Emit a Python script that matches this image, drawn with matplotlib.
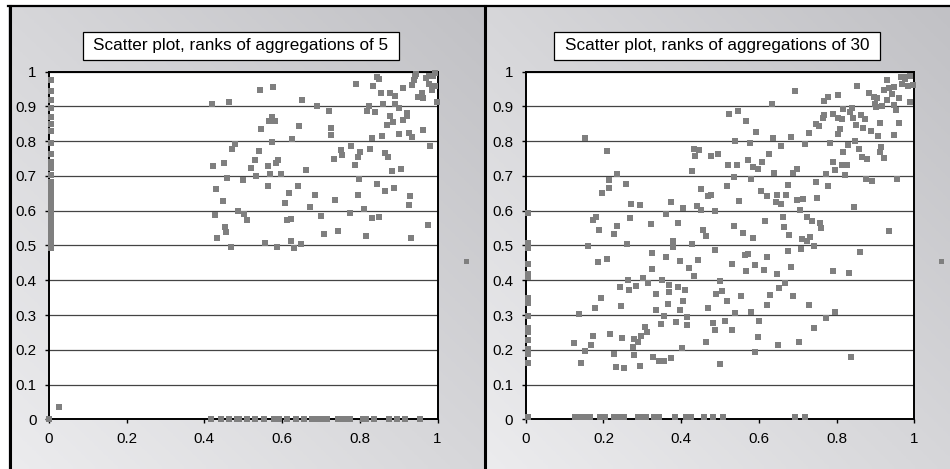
import numpy as np
import matplotlib
matplotlib.use("Agg")
import matplotlib.pyplot as plt
from matplotlib.lines import Line2D
from matplotlib.patches import Rectangle

plt.rcParams['font.family'] = ['Liberation Sans', 'DejaVu Sans']

titles = ["Scatter plot, ranks of aggregations of 5",
          "Scatter plot, ranks of aggregations of 30"]
ticks = [0, 0.2, 0.4, 0.6, 0.8, 1]
ytick_vals = [0, 0.1, 0.2, 0.3, 0.4, 0.5, 0.6, 0.7, 0.8, 0.9, 1]
ytick_labels = ["0", "0.1", "0.2", "0.3", "0.4", "0.5", "0.6", "0.7", "0.8", "0.9", "1"]
xtick_labels = ["0", "0.2", "0.4", "0.6", "0.8", "1"]

# ---- aggregations of 5 ----
agg5_edge_x = 0.004
agg5_edge_y = [0.975, 0.945, 0.918, 0.895, 0.871, 0.849, 0.829, 0.794, 0.763, 0.741,
               0.722, 0.703, 0.684, 0.675, 0.664, 0.656, 0.650, 0.640, 0.631, 0.616,
               0.607, 0.597, 0.580, 0.569, 0.562, 0.554, 0.540, 0.532, 0.525, 0.518,
               0.511, 0.500, 0.492]
agg5_floor_x = [0.0, 0.416, 0.442, 0.464, 0.483, 0.490, 0.510, 0.530, 0.554, 0.579,
                0.593, 0.613, 0.636, 0.656, 0.676, 0.684, 0.693, 0.702, 0.716, 0.744,
                0.759, 0.774, 0.809, 0.817, 0.836, 0.876, 0.897, 0.916, 0.956]
agg5_floor_y = 0.0
agg5_x = [0.026,
          0.420, 0.464, 0.423, 0.430, 0.427, 0.433, 0.447, 0.450, 0.454, 0.456,
          0.459, 0.469, 0.472, 0.479, 0.486, 0.500, 0.503, 0.510, 0.521, 0.531,
          0.533, 0.541, 0.544, 0.546, 0.557, 0.563, 0.564, 0.566, 0.570, 0.573,
          0.582, 0.575, 0.577, 0.585, 0.590, 0.587, 0.598, 0.608, 0.613, 0.623,
          0.617, 0.623, 0.626, 0.630, 0.641, 0.644, 0.649, 0.652, 0.662, 0.672,
          0.685, 0.690, 0.701, 0.708, 0.721, 0.726, 0.726, 0.734, 0.737, 0.744,
          0.752, 0.755, 0.775, 0.778, 0.788, 0.791, 0.796, 0.796, 0.801, 0.798,
          0.811, 0.817, 0.819, 0.824, 0.827, 0.832, 0.832, 0.835, 0.840, 0.845,
          0.845, 0.850, 0.850, 0.855, 0.858, 0.860, 0.865, 0.873, 0.865, 0.870,
          0.878, 0.878, 0.883, 0.886, 0.888, 0.891, 0.891, 0.901, 0.901, 0.906,
          0.912, 0.912, 0.922, 0.922, 0.927, 0.927, 0.930, 0.932, 0.935, 0.935,
          0.940, 0.945, 0.943, 0.950, 0.961, 0.963, 0.963, 0.971, 0.979, 0.976,
          0.979, 0.981, 0.986, 0.989, 0.994, 0.994, 0.999]
agg5_y = [0.036,
          0.908, 0.912, 0.728, 0.662, 0.587, 0.521, 0.627, 0.736, 0.552, 0.539,
          0.693, 0.495, 0.777, 0.791, 0.598, 0.687, 0.592, 0.573, 0.722, 0.745,
          0.699, 0.771, 0.947, 0.835, 0.506, 0.728, 0.671, 0.858, 0.705, 0.869,
          0.857, 0.797, 0.955, 0.736, 0.745, 0.497, 0.707, 0.621, 0.573, 0.576,
          0.650, 0.512, 0.805, 0.492, 0.670, 0.843, 0.503, 0.918, 0.716, 0.610,
          0.644, 0.900, 0.584, 0.532, 0.886, 0.837, 0.817, 0.748, 0.630, 0.542,
          0.774, 0.759, 0.593, 0.785, 0.733, 0.964, 0.645, 0.754, 0.770, 0.690,
          0.604, 0.526, 0.886, 0.900, 0.779, 0.808, 0.578, 0.958, 0.883, 0.677,
          0.984, 0.978, 0.581, 0.938, 0.814, 0.906, 0.765, 0.754, 0.656, 0.846,
          0.938, 0.872, 0.713, 0.854, 0.664, 0.929, 0.906, 0.895, 0.820, 0.719,
          0.952, 0.860, 0.872, 0.880, 0.823, 0.616, 0.641, 0.521, 0.811, 0.961,
          0.975, 0.992, 0.987, 0.926, 0.938, 0.923, 0.831, 0.981, 0.987, 0.558,
          0.964, 0.785, 0.946, 0.989, 0.995, 0.958, 0.912]

# ---- aggregations of 30 ----
agg30_edge_x = 0.007
agg30_edge_y = [0.593, 0.508, 0.492, 0.446, 0.418, 0.408, 0.348, 0.338, 0.334, 0.297,
                0.262, 0.250, 0.228, 0.201, 0.194, 0.188, 0.163]
agg30_floor_x = [0.007, 0.127, 0.137, 0.149, 0.160, 0.166, 0.191, 0.204, 0.226, 0.239,
                 0.254, 0.288, 0.299, 0.309, 0.329, 0.343, 0.385, 0.412, 0.426, 0.460,
                 0.483, 0.509, 0.692, 0.718]
agg30_floor_y = 0.006
agg30_x = [0.125, 0.136, 0.142, 0.153, 0.153, 0.161, 0.168, 0.172, 0.174, 0.182,
           0.179, 0.189, 0.187, 0.195, 0.197, 0.208, 0.210, 0.215, 0.215, 0.218,
           0.226, 0.228, 0.233, 0.236, 0.236, 0.244, 0.246, 0.249, 0.254, 0.259,
           0.262, 0.264, 0.267, 0.269, 0.272, 0.275, 0.280, 0.280, 0.283, 0.290,
           0.293, 0.295, 0.298, 0.303, 0.308, 0.313, 0.316, 0.322, 0.324, 0.326,
           0.328, 0.336, 0.336, 0.342, 0.347, 0.352, 0.355, 0.357, 0.360, 0.362,
           0.365, 0.370, 0.370, 0.375, 0.375, 0.380, 0.380, 0.388, 0.391, 0.393,
           0.396, 0.396, 0.406, 0.406, 0.409, 0.403, 0.414, 0.416, 0.421, 0.427,
           0.429, 0.432, 0.434, 0.447, 0.437, 0.440, 0.443, 0.450, 0.452, 0.457,
           0.463, 0.463, 0.468, 0.476, 0.470, 0.476, 0.481, 0.486, 0.488, 0.488,
           0.491, 0.496, 0.499, 0.501, 0.506, 0.512, 0.517, 0.519, 0.522, 0.524,
           0.530, 0.530, 0.535, 0.537, 0.538, 0.540, 0.543, 0.546, 0.548, 0.554,
           0.559, 0.564, 0.567, 0.567, 0.572, 0.572, 0.577, 0.579, 0.579, 0.584,
           0.586, 0.589, 0.591, 0.594, 0.597, 0.597, 0.601, 0.605, 0.608, 0.613,
           0.615, 0.620, 0.621, 0.622, 0.627, 0.630, 0.633, 0.636, 0.638, 0.644,
           0.648, 0.646, 0.649, 0.652, 0.656, 0.658, 0.662, 0.664, 0.667, 0.670,
           0.674, 0.674, 0.677, 0.682, 0.684, 0.687, 0.687, 0.692, 0.699, 0.699,
           0.704, 0.707, 0.708, 0.711, 0.715, 0.718, 0.723, 0.725, 0.728, 0.730,
           0.733, 0.738, 0.741, 0.743, 0.746, 0.746, 0.749, 0.755, 0.757, 0.761,
           0.764, 0.767, 0.769, 0.772, 0.773, 0.777, 0.779, 0.782, 0.790, 0.791,
           0.792, 0.796, 0.797, 0.803, 0.805, 0.805, 0.810, 0.813, 0.815, 0.817,
           0.818, 0.822, 0.827, 0.830, 0.831, 0.835, 0.840, 0.837, 0.843, 0.845,
           0.848, 0.851, 0.854, 0.858, 0.860, 0.864, 0.866, 0.879, 0.869, 0.874,
           0.876, 0.884, 0.889, 0.892, 0.897, 0.904, 0.899, 0.902, 0.907, 0.911,
           0.912, 0.915, 0.918, 0.921, 0.923, 0.931, 0.931, 0.934, 0.934, 0.942,
           0.947, 0.948, 0.949, 0.954, 0.955, 0.960, 0.960, 0.965, 0.975, 0.968,
           0.977, 0.983, 0.988, 0.989, 0.998]
agg30_y = [0.219, 0.302, 0.161, 0.808, 0.197, 0.499, 0.214, 0.240, 0.573, 0.583,
           0.319, 0.545, 0.452, 0.348, 0.650, 0.460, 0.771, 0.687, 0.664, 0.245,
           0.532, 0.188, 0.151, 0.705, 0.555, 0.380, 0.327, 0.233, 0.148, 0.676,
           0.503, 0.400, 0.372, 0.578, 0.618, 0.209, 0.231, 0.185, 0.384, 0.221,
           0.616, 0.153, 0.240, 0.406, 0.265, 0.251, 0.391, 0.562, 0.477, 0.432,
           0.180, 0.360, 0.314, 0.168, 0.274, 0.401, 0.297, 0.168, 0.466, 0.591,
           0.331, 0.385, 0.365, 0.626, 0.177, 0.513, 0.495, 0.281, 0.564, 0.380,
           0.454, 0.314, 0.607, 0.339, 0.372, 0.204, 0.271, 0.293, 0.434, 0.503,
           0.713, 0.411, 0.778, 0.774, 0.757, 0.613, 0.458, 0.601, 0.663, 0.546,
           0.526, 0.223, 0.642, 0.645, 0.319, 0.757, 0.277, 0.258, 0.598, 0.487,
           0.360, 0.762, 0.397, 0.159, 0.368, 0.284, 0.339, 0.671, 0.733, 0.877,
           0.447, 0.257, 0.557, 0.696, 0.305, 0.802, 0.733, 0.887, 0.627, 0.354,
           0.535, 0.472, 0.857, 0.426, 0.745, 0.475, 0.796, 0.692, 0.308, 0.726,
           0.521, 0.443, 0.194, 0.826, 0.720, 0.236, 0.283, 0.657, 0.739, 0.429,
           0.570, 0.642, 0.467, 0.328, 0.762, 0.357, 0.908, 0.808, 0.710, 0.625,
           0.645, 0.418, 0.215, 0.379, 0.785, 0.619, 0.583, 0.552, 0.392, 0.646,
           0.675, 0.483, 0.529, 0.437, 0.812, 0.710, 0.355, 0.944, 0.721, 0.631,
           0.222, 0.601, 0.490, 0.518, 0.634, 0.792, 0.581, 0.513, 0.825, 0.328,
           0.524, 0.570, 0.499, 0.262, 0.849, 0.682, 0.636, 0.843, 0.564, 0.549,
           0.866, 0.915, 0.876, 0.705, 0.291, 0.926, 0.670, 0.794, 0.877, 0.739,
           0.428, 0.716, 0.308, 0.866, 0.932, 0.821, 0.836, 0.731, 0.863, 0.768,
           0.892, 0.702, 0.731, 0.788, 0.420, 0.883, 0.895, 0.179, 0.866, 0.610,
           0.801, 0.847, 0.959, 0.779, 0.480, 0.874, 0.754, 0.749, 0.837, 0.863,
           0.692, 0.938, 0.829, 0.686, 0.928, 0.924, 0.906, 0.898, 0.814, 0.768,
           0.851, 0.782, 0.900, 0.751, 0.946, 0.975, 0.920, 0.541, 0.952, 0.935,
           0.817, 0.955, 0.904, 0.889, 0.691, 0.851, 0.923, 0.984, 0.986, 0.966,
           0.978, 0.960, 0.912, 0.989, 0.961]

marker_color = "#7f7f7f"
W, H = 950, 469

fig = plt.figure(figsize=(W / 100, H / 100), dpi=100, facecolor="white")

# gradient backgrounds of the two chart areas
light = np.array([0.925, 0.925, 0.933])
dark = np.array([0.757, 0.757, 0.773])
u = np.linspace(0, 1, 200)
v = np.linspace(0, 1, 100)
t = (u[None, :] + v[:, None]) / 2
grad = light + (dark - light) * t[:, :, None]
for x0, w in [(8, 477), (485, 465)]:
    bg = fig.add_axes([x0 / W, 0, w / W, 463 / H], zorder=-2)
    bg.imshow(grad, origin="lower", aspect="auto", extent=[0, 1, 0, 1])
    bg.set_axis_off()

# chart area borders
fig.add_artist(Line2D([9.5 / W, 9.5 / W], [0, 463 / H], color="black", lw=2.2, zorder=5))
fig.add_artist(Line2D([485.5 / W, 485.5 / W], [0, 463 / H], color="black", lw=2.2, zorder=5))
fig.add_artist(Line2D([8 / W, 1], [(H - 6) / H, (H - 6) / H], color="black", lw=1.6, zorder=5))

series = [
    (agg5_edge_x, agg5_edge_y, agg5_floor_x, agg5_floor_y, agg5_x, agg5_y),
    (agg30_edge_x, agg30_edge_y, agg30_floor_x, agg30_floor_y, agg30_x, agg30_y),
]
lefts = [49, 525.7]
legend_x = [1.073, 1.0695]

axes = []
title_texts = []
for i, (ex, ey, fx, fy, xs, ys) in enumerate(series):
    ax = fig.add_axes([lefts[i] / W, 49.7 / H, 388.5 / W, 347.6 / H], zorder=0)
    ax.set_facecolor("white")
    px = list(xs) + [ex] * len(ey) + list(fx)
    py = list(ys) + list(ey) + [fy] * len(fx)
    ax.scatter(px, py, marker="s", s=13, color=marker_color, linewidths=0,
               clip_on=False, zorder=4)
    ax.set_xlim(0, 1)
    ax.set_ylim(0, 1)
    ax.set_xticks(ticks)
    ax.set_xticklabels(xtick_labels)
    ax.set_yticks(ytick_vals)
    ax.set_yticklabels(ytick_labels)
    ax.tick_params(direction="out", length=3, width=1, pad=6, labelsize=10.9, colors="black")
    ax.grid(axis="y", color="#444444", lw=0.9)
    ax.set_axisbelow(True)
    for sp in ax.spines.values():
        sp.set_color("black")
        sp.set_linewidth(1.4)
    handle = Line2D([0], [0], marker="s", ls="none", color=marker_color,
                    markersize=3.6, markeredgewidth=0)
    ax.legend(handles=[handle], labels=[""], loc="center",
              bbox_to_anchor=(legend_x[i], 0.4525), frameon=False,
              handlelength=0.6, handletextpad=0, borderpad=0, borderaxespad=0)
    tt = ax.text(0.493, 1.074, titles[i], transform=ax.transAxes, ha="center",
                 va="center", fontsize=12.3, zorder=6, clip_on=False)
    axes.append(ax)
    title_texts.append(tt)

# white boxes round the titles
fig.canvas.draw()
renderer = fig.canvas.get_renderer()
for ax, tt in zip(axes, title_texts):
    bb = tt.get_window_extent(renderer)
    x0 = bb.x0 - 10.5
    w = bb.width + 21
    box = Rectangle((x0 / W, (H - 60) / H), w / W, 28 / H, transform=fig.transFigure,
                    facecolor="white", edgecolor="black", lw=0.9, zorder=5, clip_on=False)
    ax.add_patch(box)

fig.savefig("out.png", dpi=100, facecolor="white")
